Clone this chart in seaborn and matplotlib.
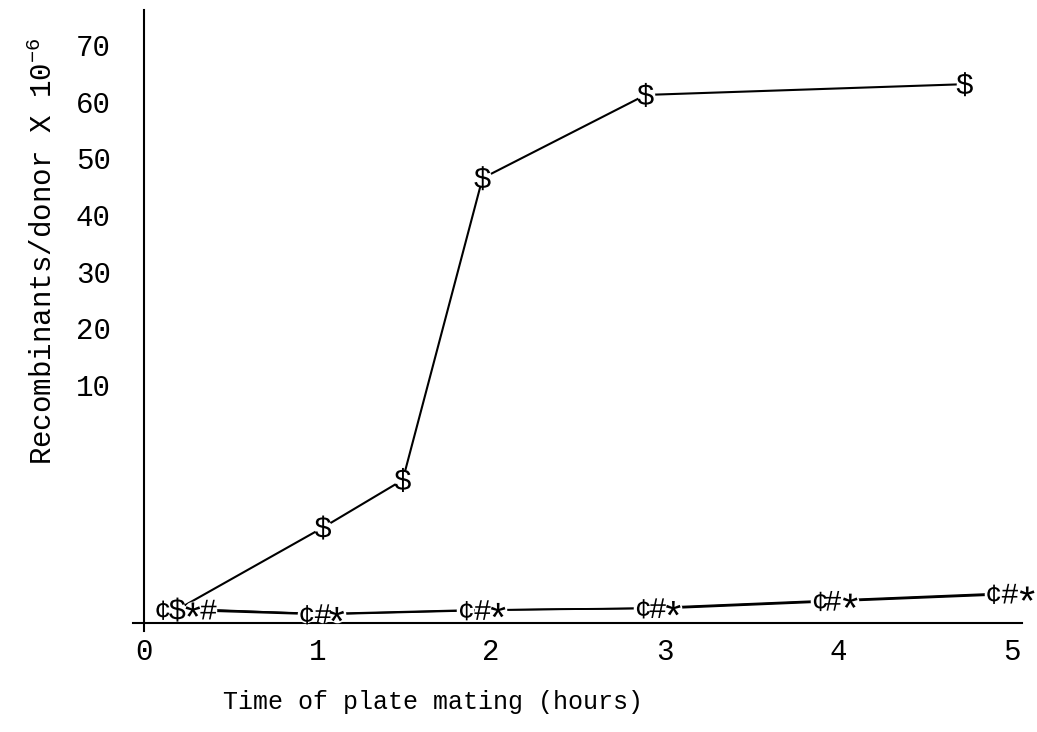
import numpy as np
import pandas as pd
import matplotlib
matplotlib.use("Agg")
import matplotlib.pyplot as plt
import seaborn as sns

# Style: plain white, typewriter-like font
sns.set_theme(style="white")
plt.rcParams["font.family"] = ["Liberation Mono", "DejaVu Sans Mono"]
plt.rcParams["mathtext.fontset"] = "custom"
plt.rcParams["mathtext.rm"] = "Liberation Mono"
plt.rcParams["mathtext.it"] = "Liberation Mono"

# -------------------------------
# Data
# -------------------------------
dollar_t = [0.19, 1.03, 1.49, 1.95, 2.89, 4.73]
dollar_v = [0.55, 4.0, 6.0, 46.5, 61.2, 63.1]

cent_t = [0.10, 0.93, 1.85, 2.87, 3.89, 4.89]
cent_v = [0.55, 0.36, 0.53, 0.61, 0.92, 1.22]

hash_t = [0.37, 1.03, 1.95, 2.96, 3.97, 4.99]
hash_v = [0.55, 0.36, 0.53, 0.61, 0.92, 1.22]

star_t = [0.28, 1.11, 2.04, 3.05, 4.07, 5.09]
star_v = [0.55, 0.36, 0.53, 0.61, 0.92, 1.22]

x_ticks = [0, 1, 2, 3, 4, 5]
y_ticks = [10, 20, 30, 40, 50, 60, 70]

series_markers = {"cent": "$¢$", "dollar": r"$\$$", "star": "$*$", "hash": r"$\#$"}
series_sizes = {"cent": 220, "dollar": 300, "star": 110, "hash": 200}

frames = []
for name, t, v in [("dollar", dollar_t, dollar_v), ("cent", cent_t, cent_v),
                   ("hash", hash_t, hash_v), ("star", star_t, star_v)]:
    frames.append(pd.DataFrame({"time": t, "value": v, "series": name}))
df = pd.concat(frames, ignore_index=True)
high = df[df["series"] == "dollar"]
low = df[df["series"] != "dollar"]

# the typed y axis is stretched below 10
k = 4.2


def forward(v):
    v = np.asarray(v, dtype=float)
    return np.where(v <= 10, v * k, 10 * k + (v - 10))


def inverse(u):
    u = np.asarray(u, dtype=float)
    return np.where(u <= 10 * k, u / k, (u - 10 * k) + 10)


fig = plt.figure(figsize=(10.37, 7.32), dpi=100)
ax = fig.add_axes([133 / 1037, 101 / 732, 889 / 1037, 621 / 732])
ax.set_yscale("function", functions=(forward, inverse))

# lines first
sns.lineplot(data=high, x="time", y="value", estimator=None, sort=False,
             color="black", linewidth=1.5, ax=ax, legend=False, zorder=2)
sns.lineplot(data=low, x="time", y="value", units="series", estimator=None,
             sort=False, color="black", linewidth=1.1, ax=ax, legend=False, zorder=2)
# white patches so lines stop short of the typed characters
sns.scatterplot(data=df, x="time", y="value", color="white", marker="o", s=160,
                linewidth=0, ax=ax, legend=False, zorder=3, clip_on=False)
# typed characters as markers
sns.scatterplot(data=df, x="time", y="value", style="series", markers=series_markers,
                size="series", sizes=series_sizes, color="black", linewidth=0,
                ax=ax, legend=False, zorder=4, clip_on=False)

ax.set_xlim(-0.065, 5.06)
ax.set_ylim(-0.35, 76.2)
ax.spines["left"].set_position(("data", 0))
ax.spines["bottom"].set_position(("data", 0))
ax.spines["top"].set_visible(False)
ax.spines["right"].set_visible(False)
for s in ["left", "bottom"]:
    ax.spines[s].set_color("black")
    ax.spines[s].set_linewidth(1.5)

ax.set_xticks(x_ticks)
ax.set_xticklabels([str(t) for t in x_ticks])
ax.set_yticks(y_ticks)
ax.set_yticklabels([str(t) for t in y_ticks])
ax.yaxis.set_minor_locator(matplotlib.ticker.NullLocator())
ax.tick_params(axis="both", length=0, labelsize=21, colors="black")
ax.tick_params(axis="x", pad=11)
ax.tick_params(axis="y", pad=24)

ax.set_xlabel("Time of plate mating (hours)", fontsize=18, color="black")
ax.set_ylabel(r"Recombinants/donor X 10$^{-6}$", fontsize=21, color="black")
ax.xaxis.set_label_coords(0.337, -0.095)
ax.yaxis.set_label_coords(-0.084, 0.612)
ax.grid(False)

plt.savefig("out.png", dpi=100, facecolor="white")
plt.close()
